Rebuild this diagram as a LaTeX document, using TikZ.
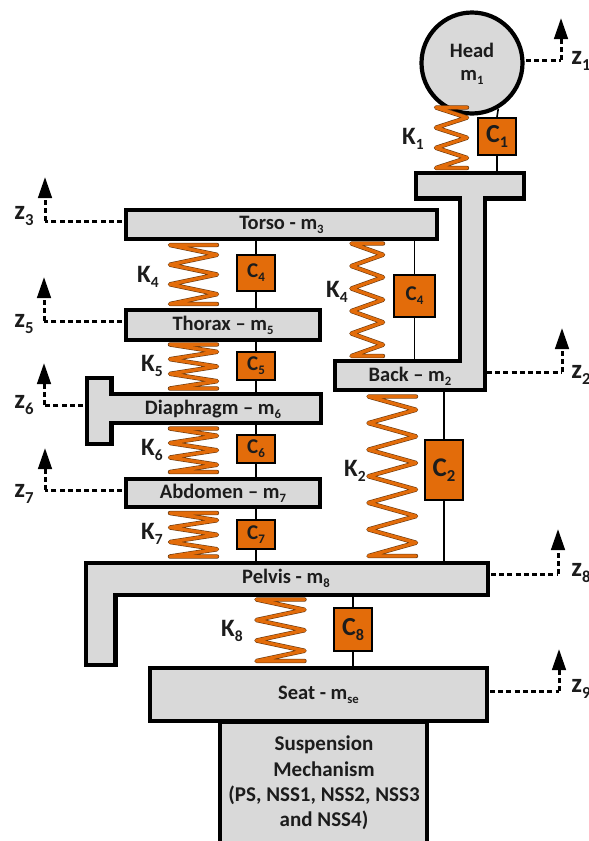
\documentclass[tikz,border=0pt]{standalone}
\usepackage{fontspec}
\setmainfont{Carlito}
\usetikzlibrary{arrows.meta}
\definecolor{massgray}{HTML}{D9D9D9}
\definecolor{dorange}{HTML}{E36C0A}
\definecolor{ink}{HTML}{1C1C1C}
\definecolor{sprdark}{HTML}{6B3A10}
\newcommand{\sbs}[1]{\raisebox{-0.2em}{\fontsize{0.62em}{0.62em}\selectfont #1}}
\tikzset{
  massshape/.style={draw=black,fill=massgray,line width=4.2pt,line join=miter},
  masstext/.style={font=\fontsize{20.5}{24}\bfseries\selectfont,text=ink,inner sep=0pt},
  damper/.style={draw=black,fill=dorange,line width=1.8pt,inner sep=0pt,text=ink,font=\bfseries},
  rod/.style={draw=black,line width=1.6pt},
  dashline/.style={draw=black,line width=3pt,dash pattern=on 5pt off 3.2pt},
  ztip/.style={-{Triangle[length=21pt,width=13.5pt]}},
  zlbl/.style={inner sep=0pt,text=ink,font=\fontsize{27}{28}\bfseries\selectfont},
  klbl/.style={inner sep=0pt,text=ink,font=\fontsize{25}{26}\bfseries\selectfont},
}
% box between outer edges
\newcommand{\massbox}[6]{\node[massshape,masstext,minimum width={(#4-#2-3.5)*1pt},minimum height={(#5-#3-3.5)*1pt}] (#1) at ({(#2+#4)/2},{(#3+#5)/2}) {#6};}
\newcommand{\dampbox}[7]{\node[damper,minimum width={(#4-#2-1.6)*1pt},minimum height={(#5-#3-1.6)*1pt}] (#1) at ({(#2+#4)/2},{(#3+#5)/2}) {\fontsize{#6}{#6}\selectfont #7};}
% spring: xl xr ytop ybot n
\newcommand{\springpath}[5]{
  \pgfmathsetmacro{\pp}{(#4-#3)/#5}
  \foreach \lw/\cc in {4.4pt/sprdark,3.2pt/dorange}{
    \draw[line width=\lw,draw=\cc,line join=round,line cap=round]
      (#2,#3) -- (#1,#3)
      \foreach \i in {1,...,#5}{
        -- ({#2},{#3+(\i-0.5)*\pp}) -- ({#1},{#3+\i*\pp})
      } -- (#2,#4);
  }
}
% z marker: id, start x, y, corner x, tip y, label x, label y, text
\newcommand{\zmark}[8]{
  \coordinate (zs#1) at (#2,#3);
  \coordinate (zc#1) at (#4,#3);
  \coordinate (zt#1) at (#4,#5);
  \draw[dashline] (zs#1) -- (zc#1);
  \draw[dashline,ztip] (zc#1) -- (zt#1);
  \node[zlbl] (zl#1) at (#6,#7) {z\sbs{#8}};
}
\begin{document}
\begin{tikzpicture}[x=1pt,y=-1pt]
\useasboundingbox (0,0) rectangle (589,841);
% masses
\node[massshape,circle,minimum size=101pt,inner sep=0pt] (head) at (472,63) {};
\node[masstext] (headt) at (472,50) {Head};
\node[masstext] (headm) at (472,77) {m\sbs{1}};
\draw[massshape] (415.7,172.7) -- (524.3,172.7) -- (524.3,198.5) -- (485.3,198.5) -- (485.3,390.3) -- (334.7,390.3) -- (334.7,360.7) -- (459.7,360.7) -- (459.7,198.5) -- (415.7,198.5) -- cycle;
\node[masstext] (back) at (410,376) {Back – m\sbs{2}};
\massbox{torso}{124}{208}{439}{241}{Torso - m\sbs{3}}
\massbox{thorax}{124}{308}{322}{342}{Thorax – m\sbs{5}}
\draw[massshape] (86.7,377.7) -- (111.5,377.7) -- (111.5,393.7) -- (321.3,393.7) -- (321.3,423.3) -- (111.5,423.3) -- (111.5,444.3) -- (86.7,444.3) -- cycle;
\node[masstext] (diaph) at (213,409) {Diaphragm – m\sbs{6}};
\massbox{abdomen}{124}{477}{322}{509}{Abdomen – m\sbs{7}}
\draw[massshape] (85.7,562.7) -- (488.3,562.7) -- (488.3,595.3) -- (115.5,595.3) -- (115.5,665.3) -- (85.7,665.3) -- cycle;
\node[masstext] (pelvis) at (286,578) {Pelvis - m\sbs{8}};
\draw[massshape] (219.7,860) -- (219.7,722) -- (427.3,722) -- (427.3,860);
\massbox{seat}{148}{666}{489}{723}{Seat - m\sbs{se}}
\node[masstext,align=center,font=\fontsize{21}{25.3}\bfseries\selectfont] (susp) at (324,783) {Suspension\\Mechanism\\(PS, NSS1, NSS2, NSS3\\and NSS4)};
% dampers
\dampbox{c1}{477}{117}{517}{156}{26}{C\sbs{1}}
\dampbox{c4a}{236}{254}{276}{292}{21}{C\sbs{4}}
\dampbox{c5}{236}{351}{276}{381}{21}{C\sbs{5}}
\dampbox{c6}{236}{434}{276}{464}{21}{C\sbs{6}}
\dampbox{c7}{236}{519}{276}{550}{21}{C\sbs{7}}
\dampbox{c8}{333}{607}{373}{652}{26}{C\sbs{8}}
\dampbox{c4b}{393}{274}{436}{318}{21}{C\sbs{4}}
\dampbox{c2}{424}{439}{464}{501}{27}{C\sbs{2}}
% rods
\coordinate (t1) at (497,171);
\coordinate (n2) at (444,561);
\draw[rod] (c1.north) -- (head.-60);
\draw[rod] (c1.south) -- (t1);
\draw[rod] (c4a.north) -- (c4a.north |- torso.south);
\draw[rod] (c4a.south) -- (c4a.south |- thorax.north);
\draw[rod] (c5.north) -- (c5.north |- thorax.south);
\coordinate (d1) at (256,392);
\coordinate (d2) at (256,425);
\draw[rod] (c5.south) -- (d1);
\draw[rod] (c6.north) -- (d2);
\draw[rod] (c6.south) -- (c6.south |- abdomen.north);
\draw[rod] (c7.north) -- (c7.north |- abdomen.south);
\coordinate (p1) at (256,561);
\coordinate (p2) at (353,595);
\draw[rod] (c7.south) -- (p1);
\draw[rod] (c8.north) -- (p2);
\draw[rod] (c8.south) -- (c8.south |- seat.north);
\draw[rod] (c4b.north) -- (c4b.north |- torso.south);
\coordinate (b1) at (414.5,359);
\coordinate (b2) at (444,392);
\draw[rod] (c4b.south) -- (b1);
\draw[rod] (c2.north) -- (b2);
\draw[rod] (c2.south) -- (n2);
% springs
\springpath{436}{467}{107.5}{168}{3}
\springpath{170}{217}{245}{304}{3}
\springpath{351.5}{383}{243.5}{356}{5}
\springpath{170}{217}{344.5}{388.5}{3}
\springpath{170}{217}{428.5}{472}{3}
\springpath{170}{217}{513}{556.5}{3}
\springpath{256.5}{304.5}{599.5}{661}{3}
\springpath{368.5}{416}{396.5}{556}{6}
% spring labels
\node[klbl] (k1) at (413,139) {K\sbs{1}};
\node[klbl] (k4a) at (148,277) {K\sbs{4}};
\node[klbl] (k4b) at (337,292) {K\sbs{4}};
\node[klbl] (k5) at (152,366) {K\sbs{5}};
\node[klbl] (k6) at (152,450) {K\sbs{6}};
\node[klbl] (k7) at (152,534) {K\sbs{7}};
\node[klbl] (k8) at (232,631) {K\sbs{8}};
\node[klbl] (k2) at (355,471) {K\sbs{2}};
% z markers
\zmark{1}{526}{60}{561}{18}{581}{61}{1}
\zmark{2}{487}{372}{562}{328}{581}{375}{2}
\zmark{3}{122}{221}{45}{177}{24}{216}{3}
\zmark{5}{122}{321}{44}{277}{24}{324}{5}
\zmark{6}{83}{405}{44}{363}{24}{405}{6}
\zmark{7}{122}{490}{45}{448}{24}{494}{7}
\zmark{8}{491}{574}{558}{529}{581}{573}{8}
\zmark{9}{490}{691}{559}{649}{581}{689}{9}
\end{tikzpicture}
\end{document}
